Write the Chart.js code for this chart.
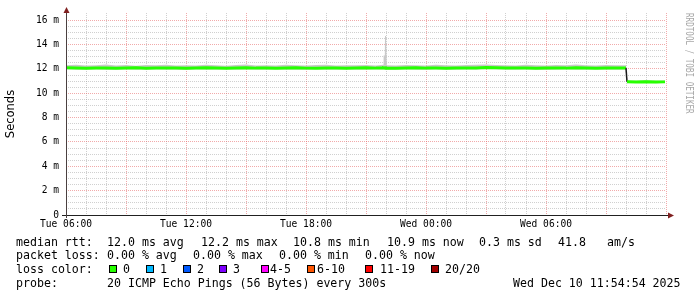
<!DOCTYPE html>
<html><head><meta charset="utf-8">
<script src="https://cdn.jsdelivr.net/npm/chart.js@4/dist/chart.umd.min.js"></script>
<style>
html,body{margin:0;padding:0;background:#fff;}
#wrap{position:relative;width:697px;height:297px;overflow:hidden;background:#fff;}
#c{position:absolute;left:0;top:0;}
.t{position:absolute;font-family:'DejaVu Sans Mono',monospace;font-size:11.6px;line-height:14px;color:#000;white-space:pre;}
.b{position:absolute;width:6px;height:6px;border:1px solid #000;}
#credit{position:absolute;left:683px;top:13px;writing-mode:vertical-rl;font-family:'DejaVu Sans Mono',monospace;font-size:10px;color:#a8a8a8;line-height:12px;white-space:pre;transform-origin:0 0;transform:scaleY(0.76);}
</style></head>
<body>
<div id="wrap"><canvas id="c" width="697" height="297"></canvas><div id="credit"></div></div>
<script>
// ---- data ----
const hours = [0,0.5,1,1.5,2,2.5,3,3.5,4,4.5,5,5.5,6,6.5,7,7.5,8,8.5,9,9.5,10,10.5,11,11.5,12,12.5,13,13.5,14,14.5,15,15.5,
 15.86,15.88,15.94,15.95,16,16.04,
 16.5,17,17.5,18,18.5,19,19.5,20,20.5,21,21.5,22,22.5,23,23.5,24,24.5,25,25.5,26,26.5,27,27.5,28,
 28.05,28.5,29,29.5,29.95];
const medianRtt = [12.10,12.08,12.06,12.09,12.07,12.05,12.08,12.10,12.06,12.07,12.09,12.08,12.05,12.07,12.10,12.08,12.06,12.09,12.11,12.07,12.08,12.06,12.09,12.10,12.07,12.05,12.08,12.09,12.06,12.08,12.10,12.07,
 12.08,12.09,12.07,12.08,12.09,12.08,
 12.06,12.08,12.10,12.07,12.08,12.05,12.09,12.07,12.08,12.12,12.10,12.09,12.07,12.08,12.06,12.09,12.08,12.07,12.10,12.08,12.06,12.09,12.08,12.07,
 10.95,10.93,10.96,10.92,10.94];
const smokeHigh = [12.30,12.34,12.28,12.31,12.36,12.29,12.32,12.27,12.33,12.30,12.35,12.28,12.31,12.29,12.34,12.30,12.27,12.33,12.36,12.29,12.31,12.28,12.34,12.30,12.29,12.32,12.35,12.28,12.31,12.30,12.33,12.29,
 12.35,13.10,13.10,14.70,14.70,12.30,
 12.28,12.33,12.31,12.29,12.34,12.30,12.28,12.32,12.35,12.37,12.33,12.30,12.29,12.34,12.31,12.28,12.33,12.30,12.36,12.31,12.29,12.32,12.30,12.31,
 11.06,11.04,11.08,11.03,11.05];
const smokeLow = [11.97,11.95,11.96,11.98,11.94,11.96,11.97,11.95,11.96,11.98,11.95,11.96,11.94,11.97,11.96,11.95,11.97,11.96,11.98,11.95,11.96,11.97,11.95,11.96,11.94,11.97,11.96,11.95,11.97,11.96,11.95,11.97,
 11.96,11.96,11.96,11.96,11.96,11.96,
 11.95,11.97,11.96,11.94,11.97,11.95,11.96,11.98,11.96,11.99,11.97,11.96,11.95,11.97,11.96,11.94,11.96,11.97,11.95,11.96,11.97,11.95,11.96,11.96,
 10.85,10.84,10.87,10.83,10.86];
const xTickHours = [0,6,12,18,24];
const xTickLabels = ["Tue 06:00","Tue 12:00","Tue 18:00","Wed 00:00","Wed 06:00"];
const yAxisTitle = "Seconds";
const creditText = "RRDTOOL / TOBI OETIKER";
const medianLabel = "median rtt:";
const medianStats = ["12.0 ms avg","12.2 ms max","10.8 ms min","10.9 ms now","0.3 ms sd","41.8","am/s"];
const lossLabel = "packet loss:";
const lossStats = ["0.00 % avg","0.00 % max","0.00 % min","0.00 % now"];
const lossColorLabel = "loss color:";
const lossNames = ["0","1","2","3","4-5","6-10","11-19","20/20"];
const lossColors = ["#26ff00","#00b8ff","#0059ff","#7e00ff","#ff00ff","#ff5500","#ff0000","#a10000"];
const probeLabel = "probe:";
const probeText = "20 ICMP Echo Pings (56 Bytes) every 300s";
const dateText = "Wed Dec 10 11:54:54 2025";

// ---- legend layout ----
const wrap = document.getElementById('wrap');
function txt(s, x, y){ const d=document.createElement('div'); d.className='t'; d.textContent=s; d.style.left=x+'px'; d.style.top=y+'px'; wrap.appendChild(d); }
function box(col, x, y){ const d=document.createElement('div'); d.className='b'; d.style.background=col; d.style.left=x+'px'; d.style.top=y+'px'; wrap.appendChild(d); }
const rowY=[235,248,262,276];
txt(medianLabel,16,rowY[0]);
[107,201,293,387,479,558,607].forEach((x,i)=>txt(medianStats[i],x,rowY[0]));
txt(lossLabel,16,rowY[1]);
[107,193,279,365].forEach((x,i)=>txt(lossStats[i],x,rowY[1]));
txt(lossColorLabel,16,rowY[2]);
const boxX=[109,146,183,219,261,307,365,431];
const nameX=[123,160,197,233,270,317,380,445];
lossNames.forEach((n,i)=>{box(lossColors[i],boxX[i],265); txt(n,nameX[i],rowY[2]);});
txt(probeLabel,16,rowY[3]);
txt(probeText,107,rowY[3]);
txt(dateText,513,rowY[3]);
document.getElementById('credit').textContent=creditText;

// ---- chart ----
const GRID='rgba(150,150,150,0.45)';
const MGRID='rgba(230,100,100,0.55)';
const axisPlugin={id:'axes',afterDraw(chart){
  const {ctx,chartArea:a}=chart;
  ctx.save();
  ctx.lineWidth=1;
  ctx.strokeStyle='#212121';
  ctx.beginPath(); ctx.moveTo(a.left-4,a.bottom+0.5); ctx.lineTo(a.right+2,a.bottom+0.5); ctx.stroke();
  ctx.strokeStyle='#4a4040';
  ctx.beginPath(); ctx.moveTo(a.left+0.5,a.bottom+3); ctx.lineTo(a.left+0.5,a.top); ctx.stroke();
  ctx.fillStyle='#802020';
  ctx.beginPath(); ctx.moveTo(a.left+0.5-3,a.top); ctx.lineTo(a.left+0.5+3,a.top); ctx.lineTo(a.left+0.5,a.top-6); ctx.closePath(); ctx.fill();
  ctx.beginPath(); ctx.moveTo(a.right+2,a.bottom+0.5-3); ctx.lineTo(a.right+2,a.bottom+0.5+3); ctx.lineTo(a.right+8,a.bottom+0.5); ctx.closePath(); ctx.fill();
  ctx.restore();
}};
const pts = arr => hours.map((h,i)=>({x:h,y:arr[i]}));
const isMul=(v,m)=>Math.abs(v/m-Math.round(v/m))<1e-6;
new Chart(document.getElementById('c'),{
  type:'line',
  data:{datasets:[
    {label:'median rtt',data:pts(medianRtt),borderColor:'#26ff00',borderWidth:3,pointRadius:0,fill:false,order:0,tension:0,
     segment:{borderColor:c=>Math.abs(c.p1.parsed.y-c.p0.parsed.y)>0.5?'#1a1a1a':undefined,
              borderWidth:c=>Math.abs(c.p1.parsed.y-c.p0.parsed.y)>0.5?1.5:undefined}},
    {label:'smoke high',data:pts(smokeHigh),borderWidth:0,borderColor:'rgba(0,0,0,0)',backgroundColor:'#c9c9c9',pointRadius:0,fill:'+1',order:1,tension:0},
    {label:'smoke low',data:pts(smokeLow),borderWidth:0,borderColor:'rgba(0,0,0,0)',pointRadius:0,fill:false,order:2,tension:0}
  ]},
  options:{
    responsive:false,animation:false,devicePixelRatio:1,
    layout:{padding:{left:0,top:13,right:31,bottom:0}},
    plugins:{legend:{display:false},tooltip:{enabled:false}},
    scales:{
      x:{type:'linear',min:0,max:30,
        afterFit(s){s.height=82;},
        ticks:{stepSize:1,autoSkip:false,maxRotation:0,padding:4,color:'#000',
          font:{family:'DejaVu Sans Mono',size:9.6},
          callback:v=>{const i=xTickHours.indexOf(v);return i>=0?xTickLabels[i]:'';}},
        grid:{drawTicks:false,lineWidth:1,color:c=>(c.tick&&isMul(c.tick.value,3))?MGRID:GRID},
        border:{display:false,dash:[1,1]}},
      y:{min:0,max:16.6,
        afterFit(s){s.width=66;},
        afterBuildTicks(s){s.ticks=s.ticks.filter(t=>isMul(t.value,0.5));},
        ticks:{stepSize:0.5,autoSkip:false,padding:3,color:'#000',
          font:{family:'DejaVu Sans Mono',size:9.6},
          callback:v=>isMul(v,2)?(Math.round(v)===0?'0':Math.round(v)+' m'):''},
        title:{display:true,text:yAxisTitle,color:'#000',font:{family:'DejaVu Sans',size:11.5},padding:{top:4,bottom:4}},
        grid:{drawTicks:true,tickLength:4,tickColor:'rgba(0,0,0,0)',lineWidth:1,color:c=>(c.tick&&isMul(c.tick.value,2))?MGRID:GRID},
        border:{display:false,dash:[1,1]}}
    }
  },
  plugins:[axisPlugin]
});
</script>
</body></html>
